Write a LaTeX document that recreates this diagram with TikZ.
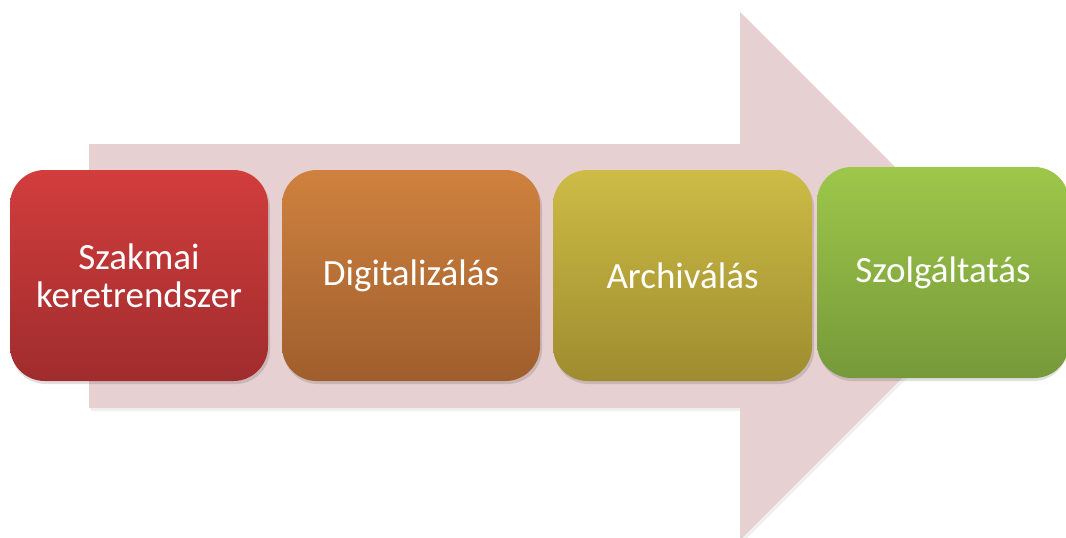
\documentclass[tikz,border=0pt]{standalone}
\usepackage{fontspec}
\setmainfont{Carlito}
\definecolor{arrowfill}{HTML}{E7D0D1}
\definecolor{redtop}{HTML}{D23D3D}
\definecolor{redbot}{HTML}{A02C2D}
\definecolor{orgtop}{HTML}{CF823F}
\definecolor{orgbot}{HTML}{9F5E2D}
\definecolor{yeltop}{HTML}{CDBC45}
\definecolor{yelbot}{HTML}{9E8C2F}
\definecolor{grntop}{HTML}{9DC74A}
\definecolor{grnbot}{HTML}{76993A}
\begin{document}
\begin{tikzpicture}[x=0.75pt,y=-0.75pt,
  stagebox/.style={rounded corners=26pt, minimum width=193.5pt, minimum height=158.25pt,
    inner sep=0pt, text=white, align=center,
    font=\fontsize{27.75}{28.5}\selectfont},
  boxshadow/.style={fill=black, fill opacity=0.12, rounded corners=26pt}]
\useasboundingbox (0,0) rectangle (1066,537);
\clip (0,0) rectangle (1066,537);
% big arrow
\fill[black, opacity=0.06] (91,147) -- (742,147) -- (742,15) -- (1006,279) -- (742,543) -- (742,411) -- (91,411) -- cycle;
\fill[arrowfill] (89,144) -- (740,144) -- (740,12) -- (1004,276) -- (740,540) -- (740,408) -- (89,408) -- cycle;
% shadows
\fill[boxshadow] (11,173) rectangle (270,384);
\fill[boxshadow] (283,173) rectangle (542,384);
\fill[boxshadow] (554,173) rectangle (814,384);
\fill[boxshadow] (818,170) rectangle (1068,381);
% boxes
\node[stagebox, top color=redtop, bottom color=redbot] (s1) at (139,275.5) {Szakmai\\keretrendszer};
\node[stagebox, top color=orgtop, bottom color=orgbot] (s2) at (411,275.5) {Digitalizálás};
\node[stagebox, top color=yeltop, bottom color=yelbot, minimum width=194.25pt] (s3) at (682.5,275.5) {Archiválás};
\node[stagebox, top color=grntop, bottom color=grnbot, minimum width=189pt] (s4) at (943,272.5) {Szolgáltatás};
\end{tikzpicture}
\end{document}
